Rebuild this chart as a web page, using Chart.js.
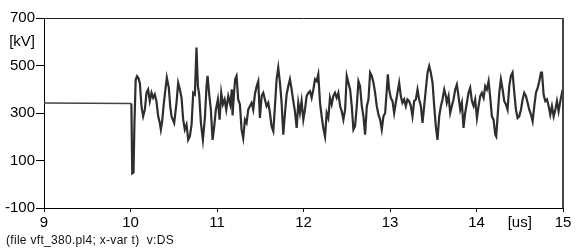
<!DOCTYPE html>
<html><head><meta charset="utf-8">
<style>html,body{margin:0;padding:0;background:#fff}#wrap{width:586px;height:252px;position:relative}</style>
<script src="https://cdn.jsdelivr.net/npm/chart.js@4"></script>
</head><body><div id="wrap"><canvas id="c"></canvas></div>
<script>
const timeUs = [9,10.01,10.02,10.035,10.045,10.06,10.075,10.09,10.108,10.127,10.146,10.166,10.185,10.204,10.223,10.243,10.262,10.281,10.300,10.320,10.339,10.351,10.366,10.382,10.397,10.420,10.443,10.459,10.474,10.505,10.532,10.551,10.571,10.590,10.609,10.628,10.648,10.667,10.686,10.706,10.725,10.744,10.763,10.779,10.794,10.814,10.837,10.860,10.879,10.891,10.910,10.929,10.949,10.968,10.987,11.010,11.030,11.049,11.068,11.088,11.107,11.130,11.153,11.172,11.180,11.196,11.210,11.226,11.245,11.265,11.284,11.303,11.323,11.342,11.361,11.380,11.400,11.419,11.438,11.458,11.477,11.496,11.516,11.535,11.554,11.573,11.593,11.612,11.631,11.651,11.670,11.689,11.708,11.728,11.747,11.766,11.786,11.805,11.824,11.843,11.863,11.882,11.901,11.921,11.940,11.959,11.978,11.998,12.017,12.036,12.056,12.075,12.094,12.114,12.133,12.152,12.171,12.191,12.210,12.229,12.249,12.268,12.287,12.306,12.326,12.345,12.364,12.384,12.403,12.423,12.442,12.461,12.481,12.500,12.519,12.539,12.558,12.577,12.596,12.616,12.635,12.654,12.674,12.693,12.712,12.732,12.751,12.770,12.789,12.809,12.828,12.847,12.867,12.886,12.905,12.924,12.944,12.963,12.975,12.990,13.009,13.029,13.048,13.067,13.086,13.106,13.125,13.144,13.164,13.183,13.202,13.221,13.241,13.260,13.279,13.299,13.318,13.337,13.357,13.376,13.395,13.414,13.434,13.453,13.472,13.492,13.511,13.530,13.549,13.569,13.588,13.607,13.627,13.646,13.657,13.677,13.696,13.715,13.734,13.754,13.773,13.792,13.812,13.831,13.850,13.869,13.889,13.908,13.927,13.947,13.966,13.985,14.005,14.024,14.043,14.062,14.082,14.101,14.120,14.140,14.159,14.178,14.197,14.217,14.228,14.244,14.263,14.282,14.302,14.321,14.340,14.359,14.379,14.398,14.417,14.437,14.456,14.475,14.494,14.514,14.533,14.552,14.572,14.591,14.610,14.630,14.649,14.668,14.687,14.707,14.726,14.745,14.757,14.776,14.795,14.815,14.834,14.853,14.872,14.892,14.911,14.930,14.949,14.969,14.988,15.0];
const voltageKV = [342,340,46,50,250,440,455,448,427,329,286,314,385,399,350,385,364,378,350,286,258,230,265,329,378,449,406,329,286,258,343,427,399,364,272,230,251,187,201,251,385,378,576,413,378,258,187,279,413,456,378,314,187,244,314,357,272,385,336,357,314,371,336,399,290,380,442,456,357,336,230,194,272,258,314,329,343,314,378,413,434,279,371,385,357,329,343,300,244,223,329,442,491,427,343,209,300,378,413,442,399,350,307,237,343,300,350,272,314,371,385,392,364,399,442,434,463,343,286,237,201,300,279,364,336,371,385,364,385,329,307,272,314,456,427,399,329,230,244,329,434,413,329,286,209,329,357,470,456,427,385,329,293,272,230,286,300,399,463,399,364,350,300,343,385,427,371,343,357,329,357,350,329,286,350,357,399,357,329,258,329,399,470,498,470,427,329,244,187,286,329,357,399,371,343,371,300,329,357,399,420,371,314,343,237,300,343,385,406,350,329,357,279,329,371,385,364,413,399,434,364,286,272,209,201,286,385,442,399,350,336,314,413,456,470,385,314,279,286,314,357,385,371,343,314,293,265,329,385,406,434,470,470,378,350,357,329,293,329,286,314,350,307,350,385,375];
const yTickLabels = {"-100":"-100","100":"100","300":"300","500":"500","600":"[kV]","700":"700"};
const xTickLabels = {"9":"9","10":"10","11":"11","12":"12","13":"13","14":"14","14.5":"[us]","15":"15"};
const footerText = "(file vft_380.pl4; x-var t)  v:DS";

const unitKeys = ["600","14.5"];
const tickMarkColor = (labels) => (ctx) => {
  const k = String(ctx.tick && ctx.tick.value);
  return (labels[k] !== undefined && !unitKeys.includes(k)) ? '#000' : 'rgba(0,0,0,0)';
};
const FONT = "'Liberation Sans', Arial, sans-serif";

const framePlugin = {
  id: 'frame',
  afterDraw(chart) {
    const {ctx, chartArea: a} = chart;
    ctx.save();
    ctx.strokeStyle = '#222';
    ctx.lineWidth = 1;
    ctx.beginPath();
    ctx.moveTo(a.left, Math.round(a.top) + 0.5);
    ctx.lineTo(a.right, Math.round(a.top) + 0.5);
    ctx.stroke();
    ctx.strokeStyle = '#444';
    ctx.lineWidth = 2;
    ctx.beginPath();
    ctx.moveTo(Math.round(a.right), a.top);
    ctx.lineTo(Math.round(a.right), a.bottom);
    ctx.stroke();
    ctx.fillStyle = '#111';
    ctx.font = "12px " + FONT;
    try { ctx.letterSpacing = '0.3px'; } catch (e) {}
    ctx.textBaseline = 'alphabetic';
    ctx.textAlign = 'left';
    ctx.fillText(footerText, 6, 244);
    ctx.restore();
  }
};

new Chart(document.getElementById('c'), {
  type: 'line',
  data: {
    datasets: [{
      data: timeUs.map((t, i) => ({x: t, y: voltageKV[i]})),
      borderColor: '#2e2e2e',
      borderWidth: 2.2,
      pointRadius: 0,
      tension: 0,
      fill: false,
      segment: {
        borderWidth: (c) => c.p0.parsed.x < 10 ? 1.5 : undefined,
        borderColor: (c) => c.p0.parsed.x < 10 ? '#444' : undefined
      }
    }]
  },
  options: {
    responsive: true,
    maintainAspectRatio: false,
    animation: false,
    devicePixelRatio: 1,
    layout: {padding: {top: 18, right: 23, left: 0, bottom: 0}},
    plugins: {legend: {display: false}, tooltip: {enabled: false}},
    scales: {
      x: {
        type: 'linear', min: 9, max: 15,
        afterFit(s) { s.height = 44; },
        ticks: {
          stepSize: 0.5, autoSkip: false, maxRotation: 0, padding: 2,
          color: '#000', font: {family: FONT, size: 15},
          callback: (v) => xTickLabels[String(v)] ?? ''
        },
        grid: {drawOnChartArea: false, drawTicks: true, tickLength: 4, tickColor: tickMarkColor(xTickLabels)},
        border: {color: '#000', width: 1}
      },
      y: {
        type: 'linear', min: -100, max: 700,
        afterFit(s) { s.width = 44; },
        ticks: {
          stepSize: 100, autoSkip: false, padding: 1,
          color: '#000', font: {family: FONT, size: 15},
          callback: (v) => yTickLabels[String(v)] ?? ''
        },
        grid: {drawOnChartArea: false, drawTicks: true, tickLength: 8, tickColor: tickMarkColor(yTickLabels)},
        border: {color: '#000', width: 1}
      }
    }
  },
  plugins: [framePlugin]
});
</script>
</body></html>
